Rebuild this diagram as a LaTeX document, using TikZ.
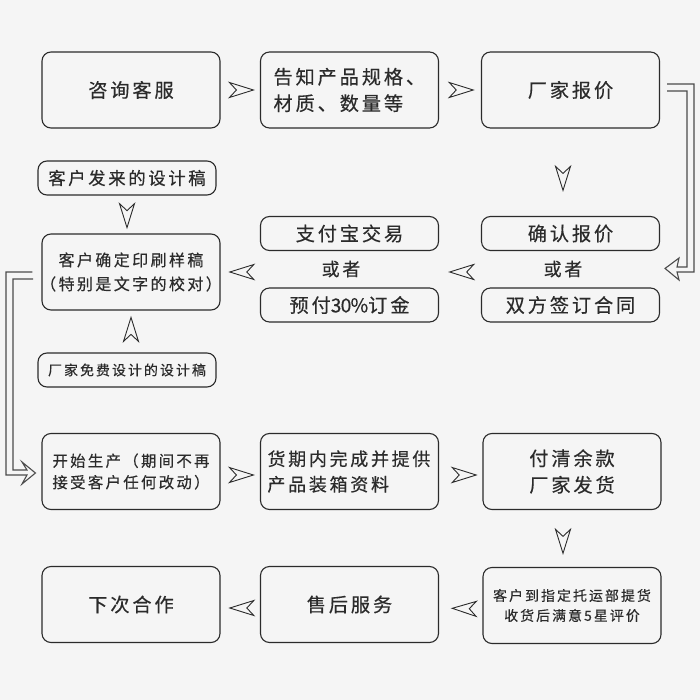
\documentclass[tikz,border=0pt]{standalone}
\usepackage{fontspec}
\setmainfont[LetterSpace=15,FakeBold=0.4]{Noto Sans CJK SC}
\usetikzlibrary{calc}
\usetikzlibrary{decorations.markings}
\definecolor{paper}{HTML}{F5F5F5}
\definecolor{ink}{HTML}{2B2B2B}

\begin{document}
\begin{tikzpicture}[x = 1pt, y = -1pt, text = ink]
	\tikzstyle{boxStyle} = [draw = ink, line width = 1.1pt, rounded corners = 9pt, minimum width = 178pt, minimum height = 76pt, inner sep = 0pt, align = center]
	\tikzstyle{thinStyle} = [boxStyle, minimum height = 34pt]
	\tikzstyle{bigText} = [font = \fontsize{19.2pt}{26.5pt}\selectfont]
	\tikzstyle{midText} = [font = \fontsize{18pt}{25.5pt}\selectfont]
	\tikzstyle{smallText} = [font = \fontsize{17.4pt}{26pt}\selectfont]
	\tikzstyle{noteText} = [font = \fontsize{16pt}{24pt}\selectfont]
	\tikzstyle{workText} = [font = \fontsize{15.4pt}{21.5pt}\selectfont]
	\tikzstyle{tinyText} = [font = \fontsize{13.9pt}{20pt}\selectfont]
	\tikzstyle{kiteLink}[0.5] = [decoration = {markings, mark = at position #1 with {\draw[ink, line width = 0.9pt, line join = miter] (12pt, 0pt) -- (-12pt, 7.5pt) -- (-5pt, 0pt) -- (-12pt, -7.5pt) -- cycle;}}, postaction = {decorate}]
	\tikzstyle{hollowArrow} = [draw = ink!85, line width = 1.1pt, line join = miter]
	\fill[paper] (0, 0) rectangle (700, 700);
	% first row
	\node[boxStyle, bigText] (consult) at (131, 90) {咨询客服};
	\node[boxStyle, bigText, text width = 152pt, inner xsep = 13pt, align = left] (inform) at (349.5, 90) {告知产品规格、\\材质、数量等};
	\node[boxStyle, bigText] (quote) at (570.5, 90) {厂家报价};
	% second row
	\node[thinStyle, smallText] (sent) at (127, 178) {客户发来的设计稿};
	\node[boxStyle, noteText] (proof) at (131, 272) {客户确定印刷样稿\\\makebox[170pt]{（特别是文字的校对）}};
	\node[thinStyle, bigText] (pay) at (349.5, 233.5) {支付宝交易};
	\node[midText, inner sep = 0pt] (or0) at (341, 269) {或者};
	\node[thinStyle, bigText] (deposit) at (349.5, 305) {预付{\addfontfeature{LetterSpace=-4}30\%}订金};
	\node[thinStyle, bigText] (confirm) at (570.5, 233.5) {确认报价};
	\node[midText, inner sep = 0pt] (or1) at (563, 269) {或者};
	\node[thinStyle, bigText] (sign) at (570.5, 305) {双方签订合同};
	\node[thinStyle, tinyText] (free) at (127, 370) {厂家免费设计的设计稿};
	% third row
	\node[boxStyle, workText] (make) at (131, 471.5) {开始生产（期间不再\\接受客户任何改动）};
	\node[boxStyle, midText, text width = 164pt, inner xsep = 7pt, align = left] (goods) at (349.5, 471.5) {货期内完成并提供\\产品装箱资料};
	\node[boxStyle, bigText] (settle) at (572, 471.5) {付清余款\\厂家发货};
	% fourth row
	\node[boxStyle, bigText] (again) at (131, 604.5) {下次合作};
	\node[boxStyle, bigText] (service) at (349.5, 604.5) {售后服务};
	\node[boxStyle, tinyText] (pickup) at (572, 605.5) {客户到指定托运部提货\\收货后满意5星评价};
	% open kites
	\path[kiteLink = 0.53] (consult.east) -- (inform.west);
	\path[kiteLink = 0.53] (inform.east) -- (quote.west);
	\path[kiteLink = 0.57] (quote.south -| or1) -- (or1 |- confirm.north);
	\path[kiteLink = 0.53] (sent.south) -- (proof.north -| sent.south);
	\path[kiteLink = 0.55] (free.north -| proof.south) -- (proof.south);
	\path[kiteLink = 0.46] ([yshift = -3pt] pay.west |- or0) -- ([yshift = -3pt] proof.east |- or0);
	\path[kiteLink = 0.46] ([yshift = -3pt] quote.west |- or1) -- ([yshift = -3pt] pay.east |- or0);
	\path[kiteLink = 0.53] ([yshift = -3.5pt] make.east) -- ([yshift = -3.5pt] goods.west);
	\path[kiteLink = 0.58] ([yshift = -3.5pt] goods.east) -- ([yshift = -3.5pt] settle.west);
	\path[kiteLink = 0.55] (settle.south -| or1) -- (or1 |- pickup.north);
	\path[kiteLink = 0.42] ([yshift = -3.5pt] pickup.west) -- ([yshift = -3.5pt] service.east);
	\path[kiteLink = 0.46] ([yshift = -3.5pt] service.west) -- ([yshift = -3.5pt] again.east);
	% hollow arrows
	\coordinate (tip0) at ($(sign.north east) + (5, -19)$);
	\coordinate (tip1) at ($(make.west) + (-6, 1.5)$);
	\draw[hollowArrow] ([yshift = 6pt] quote.east) ++(7, 0) -- (694, 84) -- (694, 272) -- (677, 272) -- (679, 280) -- (tip0) -- (679, 258) -- (677, 267) -- (687, 267) -- (687, 91) -- (667, 91);
	\draw[hollowArrow] (proof.west) ++(-9, 0) -- (6, 272) -- (6, 475) -- (27, 475) -- (22, 484) -- (tip1) -- (22, 462) -- (27, 470) -- (13, 470) -- (13, 279) -- (33, 279);
\end{tikzpicture}
\end{document}
